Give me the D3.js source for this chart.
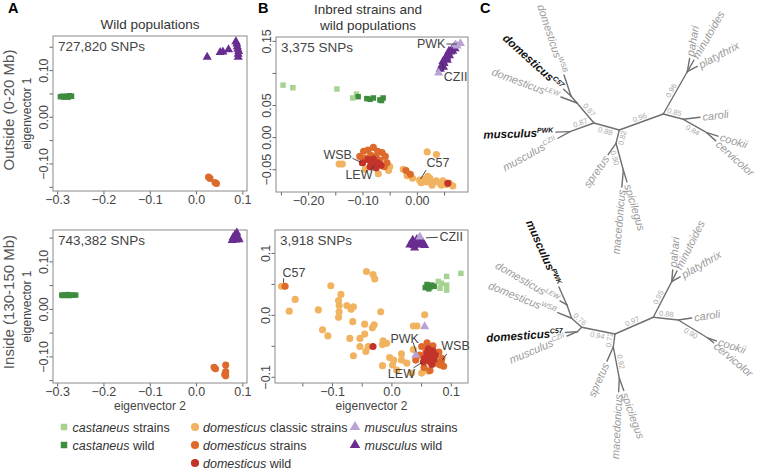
<!DOCTYPE html>
<html><head><meta charset="utf-8">
<script src="https://cdn.jsdelivr.net/npm/d3@7"></script>
<style>
body{margin:0;background:#fff;}
svg{display:block;font-family:"Liberation Sans",Arial,Helvetica,sans-serif;}
</style></head><body>
<svg id="fig" width="757" height="470"></svg>
<script>
// ================= DATA =================
const snpLabels = ["727,820 SNPs","743,382 SNPs","3,375 SNPs","3,918 SNPs"];
const rowLabels = ["Outside (0-20 Mb)","Inside (130-150 Mb)"];
const titleA = ["Wild populations"];
const titleB = ["Inbred strains and","wild populations"];

// Panel A, outside
const aTopCastWild = [[-0.293,0.043],[-0.288,0.044],[-0.283,0.043],[-0.278,0.044],[-0.273,0.045],[-0.269,0.044],[-0.285,0.042],[-0.276,0.042]];
const aTopMuscWild = [[0.024,0.128],[0.052,0.138],[0.058,0.139],[0.070,0.144],[0.086,0.161],[0.089,0.150],[0.091,0.134],[0.091,0.128],[0.088,0.156],[0.092,0.140],[0.090,0.145]];
const aTopDom = [[0.027,-0.129],[0.030,-0.132],[0.041,-0.141],[0.044,-0.143]];
// Panel A, inside
const aBotCastWild = [[-0.290,0.029],[-0.284,0.029],[-0.278,0.030],[-0.272,0.029],[-0.266,0.029],[-0.260,0.029],[-0.287,0.028],[-0.275,0.028]];
const aBotMuscWild = [[0.080,0.150],[0.084,0.156],[0.088,0.160],[0.091,0.150],[0.086,0.145],[0.078,0.144],[0.093,0.146],[0.088,0.153]];
const aBotDom = [[0.039,-0.123],[0.042,-0.126],[0.064,-0.118],[0.064,-0.132],[0.064,-0.141],[0.062,-0.138]];

// Panel B, outside
const bTopCastStrain = [[-0.246,0.081],[-0.228,0.077],[-0.147,0.075],[-0.118,0.061],[-0.111,0.067]];
const bTopCastWild = [[-0.108,0.063],[-0.092,0.060],[-0.086,0.059],[-0.080,0.061],[-0.068,0.058],[-0.062,0.061],[-0.065,0.057]];
const bTopDomClassic = [[-0.143,-0.042],[-0.137,-0.042],[-0.071,-0.057],[-0.050,-0.046],[-0.052,-0.052],[-0.095,-0.050],[0.019,-0.023],[0.036,-0.027],[-0.025,-0.050],[-0.018,-0.060],[0.005,-0.067],[0.012,-0.066],[0.018,-0.070],[0.024,-0.064],[0.030,-0.070],[0.036,-0.068],[0.042,-0.072],[0.048,-0.068],[0.054,-0.074],[0.060,-0.072],[0.066,-0.076],[0.028,-0.075],[0.020,-0.061],[0.008,-0.071],[0.045,-0.075],[-0.008,-0.064]];
const bTopDomStrain = [[-0.105,-0.030],[-0.098,-0.022],[-0.090,-0.020],[-0.080,-0.016],[-0.072,-0.022],[-0.064,-0.024],[-0.058,-0.030],[-0.055,-0.040],[-0.060,-0.046],[-0.100,-0.040],[-0.085,-0.028],[-0.075,-0.030],[-0.068,-0.036],[-0.020,-0.052],[-0.012,-0.058],[-0.095,-0.033]];
const bTopDomWild = [[-0.100,-0.040],[-0.090,-0.035],[-0.084,-0.040],[-0.078,-0.042],[-0.072,-0.040],[-0.080,-0.034],[-0.086,-0.046],[-0.066,-0.044],[-0.075,-0.048],[0.057,-0.072]];
const bTopMuscStrain = [[0.080,0.146],[0.040,0.100],[0.074,0.142],[0.071,0.144]];
const bTopMuscWild = [[0.043,0.106],[0.046,0.112],[0.048,0.118],[0.050,0.115],[0.052,0.122],[0.054,0.126],[0.056,0.120],[0.058,0.130],[0.060,0.127],[0.062,0.133],[0.064,0.136],[0.066,0.134],[0.068,0.140],[0.070,0.138],[0.049,0.109],[0.055,0.124],[0.059,0.134]];

// Panel B, inside
const bBotCastStrain = [[0.079,0.054],[0.093,0.062],[0.117,0.067],[0.093,0.048],[0.093,0.040],[0.082,0.043],[0.084,0.051]];
const bBotCastWild = [[0.057,0.044],[0.061,0.047],[0.065,0.045],[0.068,0.048],[0.072,0.046],[0.063,0.042],[0.060,0.049]];
const bBotDomClassic = [[-0.185,0.046],[-0.162,0.025],[-0.172,0.006],[-0.042,0.070],[-0.031,0.065],[-0.028,0.058],[-0.102,0.047],[-0.085,0.033],[-0.089,0.023],[-0.075,0.015],[-0.064,0.013],[-0.088,0.015],[-0.088,0.005],[-0.089,-0.004],[-0.123,0.008],[-0.068,0.009],[-0.018,0.005],[-0.116,-0.024],[-0.107,-0.034],[-0.065,-0.011],[-0.045,-0.015],[-0.029,-0.016],[-0.032,-0.021],[-0.070,-0.038],[-0.053,-0.038],[-0.045,-0.031],[-0.053,-0.051],[-0.039,-0.051],[-0.043,-0.059],[-0.064,-0.066],[-0.014,-0.042],[-0.008,-0.046],[-0.015,-0.048],[-0.003,-0.069],[0.004,-0.073],[0.002,-0.081],[-0.015,-0.082],[0.017,-0.063],[0.017,-0.073],[0.009,-0.089],[0.034,-0.094],[0.051,-0.094],[0.037,-0.018],[0.043,-0.018],[0.056,0.000],[0.062,-0.091],[0.037,-0.056],[0.026,-0.078]];
const bBotDomStrain = [[-0.179,0.046],[0.082,-0.081],[0.084,-0.075],[0.051,-0.051],[0.041,-0.073],[0.075,-0.078],[0.088,-0.083],[0.060,-0.045],[0.070,-0.050],[0.080,-0.060],[0.085,-0.070],[0.055,-0.085],[0.065,-0.090],[0.048,-0.065],[0.058,-0.060]];
const bBotDomWild = [[-0.031,-0.051],[0.060,-0.062],[0.066,-0.068],[0.070,-0.058],[0.064,-0.075],[0.072,-0.072],[0.056,-0.070],[0.068,-0.080],[0.074,-0.065],[0.062,-0.055],[0.054,-0.076]];
const bBotMuscStrain = [[0.048,0.126],[0.056,-0.019],[0.041,-0.065]];
const bBotMuscWild = [[0.031,0.113],[0.035,0.117],[0.038,0.112],[0.041,0.118],[0.044,0.114],[0.047,0.120],[0.050,0.113],[0.053,0.117],[0.056,0.112],[0.036,0.121],[0.043,0.122],[0.039,0.108]];

// Ticks
const aXTicks = [-0.3,-0.2,-0.1,0.0,0.1];
const aXLabels = [-0.3,-0.2,-0.1,0.0,0.1];
const aYTicks = [-0.15,-0.10,-0.05,0.00,0.05,0.10,0.15];
const aYLabels = [-0.10,0.00,0.10];
const bTopXTicks = [-0.25,-0.20,-0.15,-0.10,-0.05,0.00,0.05];
const bTopXLabels = [-0.20,-0.10,0.00];
const bTopYTicks = [-0.05,0.00,0.05,0.10,0.15];
const bTopYLabels = [-0.05,0.00,0.05,0.15];
const bBotXTicks = [-0.15,-0.10,-0.05,0.00,0.05,0.10];
const bBotXLabels = [-0.1,0.0,0.1];
const bBotYTicks = [-0.10,-0.05,0.00,0.05,0.10];
const bBotYLabels = [-0.1,0.0,0.1];

// Point annotations (target point in data units)
const bTopAnnot = [
  {text:"PWK", x:0.080, y:0.146},
  {text:"CZII", x:0.045, y:0.118},
  {text:"WSB", x:-0.100, y:-0.040},
  {text:"LEW", x:-0.078, y:-0.042},
  {text:"C57", x:0.005, y:-0.067}
];
const bBotAnnot = [
  {text:"CZII", x:0.048, y:0.126},
  {text:"C57", x:-0.179, y:0.046},
  {text:"PWK", x:0.041, y:-0.065},
  {text:"WSB", x:0.084, y:-0.075},
  {text:"LEW", x:0.054, y:-0.076}
];

// Legend
const legendItems = [
  {sp:"castaneus", rest:" strains", key:"castStrain"},
  {sp:"castaneus", rest:" wild", key:"castWild"},
  {sp:"domesticus", rest:" classic strains", key:"domClassic"},
  {sp:"domesticus", rest:" strains", key:"domStrain"},
  {sp:"domesticus", rest:" wild", key:"domWild"},
  {sp:"musculus", rest:" strains", key:"muscStrain"},
  {sp:"musculus", rest:" wild", key:"muscWild"}
];

// Trees: [parent, child, branch length, branch angle (deg)]
const treeTopEdges = [
  ["C","NL",26.3,195.5],["NL","D1",26.2,229.6],["D1","D2",9.2,229.4],
  ["D2","WSB",22.1,251.6],["D2","C57",10,222],["D1","LEW",17.1,200.6],
  ["NL","M",25.5,160.1],["M","PWK",14.1,178],["M","CZII",13.7,151.2],
  ["C","S1",13.7,103.9],["S1","spretus",13.8,125],["S1","S2",27.7,74.7],
  ["S2","macedonicus",17.2,95],["S2","spicilegus",12.4,73],
  ["C","NR",46.8,-20],["NR","P",48.6,-60.4],["P","pahari",13.5,-80],
  ["P","minutoides",13.5,-60.2],["P","platythrix",11.3,-28],
  ["NR","K",20.7,14.8],["K","caroli",16.8,-6.8],["K","K2",27,29.8],
  ["K2","cookii",11.8,17],["K2","cervicolor",12.2,42]
];
const treeBotEdges = [
  ["C","NL",34,191.4],["NL","A1",13.5,222],["A1","A2",14.1,250.5],
  ["A2","PWK",19.7,246],["A2","LEW",8,210],["A1","WSB",15,202],
  ["NL","B1",6.2,135],["B1","C57",12,176],["B1","CZII",11.1,157],
  ["C","S1",13.1,97.5],["S1","spretus",15.5,114],["S1","S2",31.9,79.1],
  ["S2","macedonicus",13.4,93],["S2","spicilegus",13,70],
  ["C","NR",41.8,-23.6],["NR","P",40.1,-62.7],["P","pahari",11.7,-85],
  ["P","minutoides",11.9,-63.6],["P","platythrix",9.7,-30],
  ["NR","K",25.1,6.2],["K","caroli",13.5,-8.5],["K","K2",35.1,31.4],
  ["K2","cookii",8.6,18],["K2","cervicolor",7.1,40]
];
const treeTopTips = [
  {id:"WSB",name:"domesticus",sup:"WSB"},{id:"C57",name:"domesticus",sup:"C57",bold:true},
  {id:"LEW",name:"domesticus",sup:"LEW"},{id:"PWK",name:"musculus",sup:"PWK",bold:true},
  {id:"CZII",name:"musculus",sup:"CZII"},{id:"spretus",name:"spretus"},
  {id:"macedonicus",name:"macedonicus"},{id:"spicilegus",name:"spicilegus"},
  {id:"pahari",name:"pahari"},{id:"minutoides",name:"minutoides"},
  {id:"platythrix",name:"platythrix"},{id:"caroli",name:"caroli"},
  {id:"cookii",name:"cookii"},{id:"cervicolor",name:"cervicolor"}
];
const treeBotTips = [
  {id:"PWK",name:"musculus",sup:"PWK",bold:true},{id:"LEW",name:"domesticus",sup:"LEW"},
  {id:"WSB",name:"domesticus",sup:"WSB"},{id:"C57",name:"domesticus",sup:"C57",bold:true},
  {id:"CZII",name:"musculus",sup:"CZII"},{id:"spretus",name:"spretus"},
  {id:"macedonicus",name:"macedonicus"},{id:"spicilegus",name:"spicilegus"},
  {id:"pahari",name:"pahari"},{id:"minutoides",name:"minutoides"},
  {id:"platythrix",name:"platythrix"},{id:"caroli",name:"caroli"},
  {id:"cookii",name:"cookii"},{id:"cervicolor",name:"cervicolor"}
];
// bootstrap support: [child node of branch, value, side]
const treeTopBoot = [["D1","0.87",1],["M","0.87",1],["NL","0.88",-1],["S1","0.82",-1],["S2","0.90",1],["NR","0.96",-1],["P","0.96",-1],["K","0.85",-1],["K2","0.84",1]];
const treeBotBoot = [["A1","0.76",1],["NL","0.94",-1],["S1","0.72",1],["S2","0.92",-1],["NR","0.97",-1],["P","0.95",-1],["K","0.88",-1],["K2","0.90",1]];

// ================= STYLE / LAYOUT =================
const COL = {castStrain:"#a6d38f", castWild:"#3e8c3e", domClassic:"#f1b35f", domStrain:"#dd6a2b",
             domWild:"#c4332a", muscStrain:"#b9a3d4", muscWild:"#692c90"};
const SHAPE = {castStrain:d3.symbolSquare, castWild:d3.symbolSquare, domClassic:d3.symbolCircle,
               domStrain:d3.symbolCircle, domWild:d3.symbolCircle, muscStrain:d3.symbolTriangle, muscWild:d3.symbolTriangle};
const SIZE = {square:30, circle:40, triangle:36};
const TXT = "#444";
const svg = d3.select("#fig");
const fmt = (v,d) => (v < -1e-9 ? "\u2212" : "") + Math.abs(v).toFixed(d);

const panels = [
  {box:[53,247,36,191], xd:[-0.309,0.110], yd:[-0.159,0.173], xT:aXTicks, xL:aXLabels, xDec:1, yT:aYTicks, yL:aYLabels, yDec:2,
   snp:snpLabels[0], ylab:true, xlab:false,
   layers:[["castWild",aTopCastWild],["domStrain",aTopDom],["muscWild",aTopMuscWild]]},
  {box:[53,247,230,383], xd:[-0.309,0.110], yd:[-0.156,0.166], xT:aXTicks, xL:aXLabels, xDec:1, yT:aYTicks, yL:aYLabels, yDec:2,
   snp:snpLabels[1], ylab:true, xlab:true,
   layers:[["castWild",aBotCastWild],["domStrain",aBotDom],["muscWild",aBotMuscWild]]},
  {box:[276,468,37,192], xd:[-0.259,0.094], yd:[-0.0855,0.156], xT:bTopXTicks, xL:bTopXLabels, xDec:2, yT:bTopYTicks, yL:bTopYLabels, yDec:2,
   snp:snpLabels[2], ylab:false, xlab:false,
   layers:[["castStrain",bTopCastStrain],["castWild",bTopCastWild],["domClassic",bTopDomClassic],["domStrain",bTopDomStrain],["domWild",bTopDomWild],["muscWild",bTopMuscWild],["muscStrain",bTopMuscStrain]],
   annot:bTopAnnot,
   annotLayout:[
     {l1:[-3.5,0.6],l2:[-14,0.6],t:[-15,5],a:"end"},
     {l1:[0.5,1],l2:[2.5,8.5],t:[2.5,20],a:"start"},
     {l1:[-1.5,-0.5],l2:[-10,-4.5],t:[-10.5,-3.5],a:"end"},
     {l1:[-0.5,1.5],l2:[-3.5,6.5],t:[-15.5,14.5],a:"middle"},
     {l1:[1,-1],l2:[6.5,-10],t:[7,-13],a:"start"}
   ]},
  {box:[275,468,230,383], xd:[-0.196,0.129], yd:[-0.110,0.137], xT:bBotXTicks, xL:bBotXLabels, xDec:1, yT:bBotYTicks, yL:bBotYLabels, yDec:1,
   snp:snpLabels[3], ylab:false, xlab:true,
   layers:[["castStrain",bBotCastStrain],["castWild",bBotCastWild],["domClassic",bBotDomClassic],["domStrain",bBotDomStrain],["domWild",bBotDomWild],["muscWild",bBotMuscWild],["muscStrain",bBotMuscStrain]],
   annot:bBotAnnot,
   annotLayout:[
     {l1:[6,1],l2:[18,0.5],t:[19.5,4.5],a:"start"},
     {l1:[-1.5,-3.5],l2:[-1.5,-8],t:[-2.5,-9],a:"start"},
     {l1:[0.5,-3],l2:[-2.5,-12.5],t:[-11,-12.5],a:"middle"},
     {l1:[1,-1],l2:[5.5,-7.5],t:[0,-11],a:"start"},
     {l1:[-1.5,0.5],l2:[-10,6],t:[-8.5,16],a:"end"}
   ]}
];

function shapeKey(k){ return SHAPE[k]===d3.symbolSquare?"square":SHAPE[k]===d3.symbolCircle?"circle":"triangle"; }

panels.forEach(p => {
  const [x0,x1,y0,y1] = p.box;
  const x = d3.scaleLinear().domain(p.xd).range([x0,x1]);
  const y = d3.scaleLinear().domain(p.yd).range([y1,y0]);
  const g = svg.append("g");
  // x axis
  const gx = g.append("g").attr("transform",`translate(0,${y1})`)
    .call(d3.axisBottom(x).tickValues(p.xT).tickSize(3.5).tickPadding(1)
      .tickFormat(v => p.xL.some(l => Math.abs(l-v)<1e-9) ? fmt(v,p.xDec) : ""));
  gx.select(".domain").remove();
  gx.selectAll("line").attr("stroke","#666");
  gx.selectAll("text").attr("font-size",12.5).attr("fill",TXT).attr("font-family","Liberation Sans, Arial, sans-serif");
  // y axis
  const gy = g.append("g").attr("transform",`translate(${x0},0)`)
    .call(d3.axisLeft(y).tickValues(p.yT).tickSize(3.5)
      .tickFormat(v => p.yL.some(l => Math.abs(l-v)<1e-9) ? fmt(v,p.yDec) : ""));
  gy.select(".domain").remove();
  gy.selectAll("line").attr("stroke","#666");
  gy.selectAll("text").attr("font-size",12.5).attr("fill",TXT).attr("font-family","Liberation Sans, Arial, sans-serif")
    .attr("transform","rotate(-90)").attr("x",0).attr("y",-5).attr("dy",0).attr("text-anchor","middle");
  // box
  g.append("rect").attr("x",x0).attr("y",y0).attr("width",x1-x0).attr("height",y1-y0)
    .attr("fill","none").attr("stroke","#8a8a8a").attr("stroke-width",1);
  // points
  p.layers.forEach(([k,data]) => {
    g.append("g").selectAll("path").data(data).join("path")
      .attr("transform", d => `translate(${x(d[0])},${y(d[1])})`)
      .attr("d", d3.symbol().type(SHAPE[k]).size(SIZE[shapeKey(k)]))
      .attr("fill", COL[k]);
  });
  // SNP count
  g.append("text").attr("x",x0+5).attr("y",y0+15).attr("font-size",13.5).attr("fill",TXT).text(p.snp);
  // annotations
  if (p.annot) {
    p.annot.forEach((a,i) => {
      const L = p.annotLayout[i];
      const px = x(a.x), py = y(a.y);
      g.append("line").attr("x1",px+L.l1[0]).attr("y1",py+L.l1[1]).attr("x2",px+L.l2[0]).attr("y2",py+L.l2[1])
        .attr("stroke","#333").attr("stroke-width",0.9);
      g.append("text").attr("x",px+L.t[0]).attr("y",py+L.t[1]).attr("text-anchor",L.a)
        .attr("font-size",12.5).attr("fill",TXT).text(a.text);
    });
  }
  if (p.ylab) {
    g.append("text").attr("transform",`translate(${x0-22.5},${(y0+y1)/2}) rotate(-90)`).attr("text-anchor","middle")
      .attr("font-size",12).attr("fill",TXT).text("eigenvector 1");
  }
  if (p.xlab) {
    g.append("text").attr("x",(x0+x1)/2).attr("y",y1+27).attr("text-anchor","middle")
      .attr("font-size",12).attr("fill",TXT).text("eigenvector 2");
  }
});

// Titles & letters
svg.append("text").attr("x",8).attr("y",13).attr("font-size",14.5).attr("font-weight","bold").text("A");
svg.append("text").attr("x",258).attr("y",13).attr("font-size",14.5).attr("font-weight","bold").text("B");
svg.append("text").attr("x",480).attr("y",13).attr("font-size",14.5).attr("font-weight","bold").text("C");
svg.append("text").attr("x",150).attr("y",29).attr("text-anchor","middle").attr("font-size",13.5).attr("fill","#333").text(titleA[0]);
titleB.forEach((t,i) => svg.append("text").attr("x",368).attr("y",13.5+i*16.5).attr("text-anchor","middle")
  .attr("font-size",13.5).attr("fill","#333").text(t));
svg.append("text").attr("transform","translate(13.5,110) rotate(-90)").attr("text-anchor","middle")
  .attr("font-size",15).attr("fill","#555").text(rowLabels[0]);
svg.append("text").attr("transform","translate(13.5,302) rotate(-90)").attr("text-anchor","middle")
  .attr("font-size",15).attr("fill","#555").text(rowLabels[1]);

// Legend
const legCols = [{mx:64,tx:72.5,items:[0,1]},{mx:195,tx:203,items:[2,3,4]},{mx:355,tx:364.5,items:[5,6]}];
const legRows = [427,445,463];
legCols.forEach(c => {
  c.items.forEach((idx,r) => {
    const it = legendItems[idx];
    const shp = shapeKey(it.key);
    const sz = shp==="square"?42:shp==="circle"?52:48;
    svg.append("path").attr("transform",`translate(${c.mx},${legRows[r]})`)
      .attr("d",d3.symbol().type(SHAPE[it.key]).size(sz)).attr("fill",COL[it.key]);
    const t = svg.append("text").attr("x",c.tx).attr("y",legRows[r]).attr("dy","0.36em")
      .attr("font-size",12.5).attr("fill","#333");
    t.append("tspan").attr("font-style","italic").text(it.sp);
    t.append("tspan").text(it.rest);
  });
});

// Trees
function drawTree(edges, tips, boots, root){
  const g = svg.append("g");
  const sx = d3.scaleLinear().domain([0,1]).range([root[0], root[0]+1]);
  const sy = d3.scaleLinear().domain([0,1]).range([root[1], root[1]+1]);
  const pos = {}, ang = {}, par = {};
  pos[edges[0][0]] = [0,0];
  edges.forEach(([p,c,len,a]) => {
    const r = a*Math.PI/180;
    pos[c] = [pos[p][0]+len*Math.cos(r), pos[p][1]+len*Math.sin(r)];
    ang[c] = a; par[c] = p;
  });
  g.selectAll("line").data(edges).join("line")
    .attr("x1",d=>sx(pos[d[0]][0])).attr("y1",d=>sy(pos[d[0]][1]))
    .attr("x2",d=>sx(pos[d[1]][0])).attr("y2",d=>sy(pos[d[1]][1]))
    .attr("stroke","#6f6f6f").attr("stroke-width",1.4).attr("stroke-linecap","round");
  const norm = a => { let n = ((a%360)+360)%360; if (n>180) n-=360; return n; };
  tips.forEach(t => {
    const a = norm(ang[t.id]); const r = a*Math.PI/180;
    const ox = pos[t.id][0]+2.5*Math.cos(r), oy = pos[t.id][1]+2.5*Math.sin(r);
    let rot = a, anchor = "start";
    if (a > 90) { rot = a-180; anchor = "end"; } else if (a < -90) { rot = a+180; anchor = "end"; }
    const tx = g.append("text").attr("transform",`translate(${sx(ox)},${sy(oy)}) rotate(${rot})`)
      .attr("text-anchor",anchor).attr("dy","0.35em").attr("font-style","italic")
      .attr("font-size", t.bold?11.5:11).attr("font-weight", t.bold?"bold":"normal")
      .attr("fill", t.bold?"#111":"#9a9a9a");
    tx.append("tspan").text(t.name);
    if (t.sup) tx.append("tspan").attr("font-size",7).attr("dy",-4).text(t.sup);
  });
  boots.forEach(([c,v,side]) => {
    const p = par[c];
    const mx = (pos[p][0]+pos[c][0])/2, my = (pos[p][1]+pos[c][1])/2;
    const a = ang[c]*Math.PI/180;
    const ox = mx + side*4.8*(-Math.sin(a)), oy = my + side*4.8*Math.cos(a);
    let rot = norm(ang[c]); if (rot>90) rot-=180; else if (rot<-90) rot+=180;
    g.append("text").attr("transform",`translate(${sx(ox)},${sy(oy)}) rotate(${rot})`)
      .attr("text-anchor","middle").attr("dy","0.35em").attr("font-size",7.5).attr("fill","#aaa").text(v);
  });
}
drawTree(treeTopEdges, treeTopTips, treeTopBoot, [619.3,130]);
drawTree(treeBotEdges, treeBotTips, treeBotBoot, [615,334]);
</script>
</body></html>
